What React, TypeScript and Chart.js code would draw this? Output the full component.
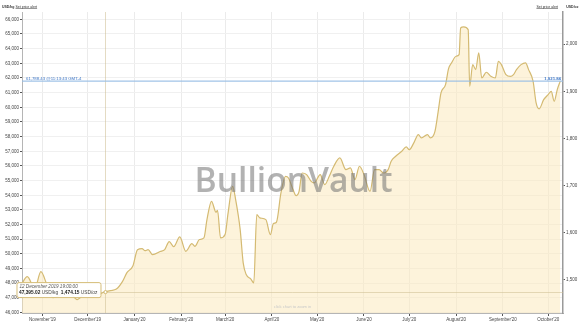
import { useEffect, useRef } from "react";
import { Chart, registerables } from "chart.js";

Chart.register(...registerables);

// ---------- data ----------
const dates = [
  "2019-10-18", "2019-10-22", "2019-10-27", "2019-10-31", "2019-11-04", "2019-11-08", "2019-11-12",
  "2019-11-16", "2019-11-20", "2019-11-24", "2019-11-28", "2019-12-02", "2019-12-05", "2019-12-12",
  "2019-12-16", "2019-12-20", "2019-12-24", "2019-12-27", "2019-12-31", "2020-01-03", "2020-01-06",
  "2020-01-08", "2020-01-10", "2020-01-13", "2020-01-18", "2020-01-21", "2020-01-24", "2020-01-27",
  "2020-01-31", "2020-02-04", "2020-02-08", "2020-02-10", "2020-02-13", "2020-02-16", "2020-02-18",
  "2020-02-21", "2020-02-24", "2020-02-25", "2020-02-27", "2020-03-01", "2020-03-03", "2020-03-06",
  "2020-03-08", "2020-03-11", "2020-03-13", "2020-03-15", "2020-03-18", "2020-03-20", "2020-03-22",
  "2020-03-24", "2020-03-28", "2020-03-31", "2020-04-02", "2020-04-04", "2020-04-07", "2020-04-10",
  "2020-04-12", "2020-04-15", "2020-04-17", "2020-04-19", "2020-04-21", "2020-04-24", "2020-04-27",
  "2020-04-29", "2020-05-03", "2020-05-06", "2020-05-09", "2020-05-12", "2020-05-16", "2020-05-20",
  "2020-05-23", "2020-05-26", "2020-05-29", "2020-06-01", "2020-06-05", "2020-06-08", "2020-06-11",
  "2020-06-14", "2020-06-17", "2020-06-19", "2020-06-22", "2020-06-26", "2020-06-29", "2020-07-01",
  "2020-07-04", "2020-07-07", "2020-07-09", "2020-07-13", "2020-07-15", "2020-07-18", "2020-07-20",
  "2020-07-22", "2020-07-25", "2020-07-27", "2020-07-29", "2020-08-01", "2020-08-03", "2020-08-04",
  "2020-08-06", "2020-08-09", "2020-08-10", "2020-08-12", "2020-08-14", "2020-08-16", "2020-08-18",
  "2020-08-21", "2020-08-24", "2020-08-27", "2020-08-29", "2020-08-31", "2020-09-03", "2020-09-06",
  "2020-09-08", "2020-09-10", "2020-09-13", "2020-09-16", "2020-09-18", "2020-09-21", "2020-09-23",
  "2020-09-25", "2020-09-28", "2020-10-01", "2020-10-03", "2020-10-05", "2020-10-07", "2020-10-09",
];

const usdPerKg = [
  47900, 48450, 47630, 48790, 47900, 47020, 47150,
  47430, 47290, 46880, 47220, 47560, 47150, 47395.02,
  47500, 47600, 48110, 48720, 49200, 50290, 50360,
  50220, 50290, 49950, 50160, 50290, 50840, 50500,
  51160, 50180, 50700, 50520, 50980, 51090, 52340,
  53590, 52840, 52970, 51090, 51320, 52800, 54610,
  53700, 51660, 49390, 48590, 48300, 48020, 52680,
  52460, 52340, 51320, 52070, 52160, 54160, 55290,
  55180, 54390, 53980, 54270, 55520, 55410, 54950,
  54840, 55410, 54730, 55290, 55980, 56550, 55750,
  55870, 55070, 55980, 55410, 54270, 55750, 55750,
  55520, 55750, 56320, 56660, 57000, 57300, 57110,
  57570, 58140, 57910, 58140, 57910, 58360, 59620,
  60980, 61550, 62640, 63030, 63480, 63590, 65410,
  65480, 65300, 61430, 62910, 62570, 63710, 62000,
  62390, 62110, 62000, 63140, 62910, 62230, 62110,
  62230, 62570, 62910, 63030, 62570, 61770, 60300,
  59890, 60520, 60870, 61090, 60410, 61210, 61788.43,
];

const monthTickDates = [
  "2019-11-01", "2019-12-01", "2020-01-01", "2020-02-01", "2020-03-01", "2020-04-01",
  "2020-05-01", "2020-06-01", "2020-07-01", "2020-08-01", "2020-09-01", "2020-10-01",
];
const monthTickLabels = [
  "November'19", "December'19", "January'20", "February'20", "March'20", "April'20",
  "May'20", "June'20", "July'20", "August'20", "September'20", "October'20",
];

const kgTicks = [
  46000, 46500, 47000, 47500, 48000, 48500, 49000, 49500, 50000, 50500, 51000,
  51500, 52000, 52500, 53000, 53500, 54000, 54500, 55000, 55500, 56000, 56500,
  57000, 57500, 58000, 58500, 59000, 59500, 60000, 60500, 61000, 61500, 62000,
  62500, 63000, 63500, 64000, 64500, 65000, 65500, 66000,
];
const ozTicks = [1500, 1600, 1700, 1800, 1900, 2000];

const OZ_PER_KG = 32.1507;
const Y_MIN = 45970;
const Y_MAX = 66500;
const X_START = "2019-10-18";
const X_END = "2020-10-10";

const currentPriceKg = 61788.43;
const currentPriceLabel = "61,788.43 @11:13:43 GMT-4";
const currentPriceOzLabel = "1,921.84";

const tooltipDate = "2019-12-12";
const tooltipHour = 19;
const tooltipTitle = "12 December 2019 19:00:00";
const tooltipKg = 47395.02;
const tooltipKgLabel = "47,395.02";
const tooltipOzLabel = "1,474.15";

const watermarkText = "BullionVault";

// ---------- helpers ----------
const BASE = Date.UTC(2019, 10, 1);
function toDay(s: string): number {
  const [y, m, d] = s.split("-").map(Number);
  return (Date.UTC(y, m - 1, d) - BASE) / 86400000;
}
const fmt = new Intl.NumberFormat("en-US");
const FONT = "'Liberation Sans', Arial, sans-serif";

const overlayPlugin = {
  id: "overlay",
  afterDatasetsDraw(chart: any) {
    const { ctx, chartArea } = chart;
    const xs = chart.scales.x;
    const ys = chart.scales.y;
    ctx.save();

    // crosshairs for tooltip point
    const tx = xs.getPixelForValue(toDay(tooltipDate) + tooltipHour / 24);
    const ty = ys.getPixelForValue(tooltipKg);
    ctx.strokeStyle = "rgba(205,190,145,0.55)";
    ctx.lineWidth = 1;
    ctx.beginPath();
    ctx.moveTo(chartArea.left, Math.round(ty) + 0.5);
    ctx.lineTo(chartArea.right, Math.round(ty) + 0.5);
    ctx.moveTo(Math.round(tx) + 0.5, chartArea.top);
    ctx.lineTo(Math.round(tx) + 0.5, chartArea.bottom);
    ctx.stroke();

    // current price line
    const py = ys.getPixelForValue(currentPriceKg);
    ctx.strokeStyle = "rgba(150,188,228,0.9)";
    ctx.lineWidth = 1.3;
    ctx.beginPath();
    ctx.moveTo(chartArea.left, py);
    ctx.lineTo(chartArea.right, py);
    ctx.stroke();
    ctx.fillStyle = "#3f78c8";
    ctx.font = `4.3px ${FONT}`;
    ctx.textBaseline = "alphabetic";
    ctx.textAlign = "left";
    ctx.fillText(currentPriceLabel, chartArea.left + 4, py - 1.2);
    ctx.font = `bold 4.3px ${FONT}`;
    ctx.textAlign = "right";
    ctx.fillText(currentPriceOzLabel, chartArea.right - 2, py - 1.2);

    // watermark (fitted to its width in the reference)
    const cx = (chartArea.left + chartArea.right) / 2;
    ctx.font = `600 40px 'Open Sans', ${FONT}`;
    const mw = ctx.measureText(watermarkText).width;
    const size = (40 * 198) / mw;
    ctx.font = `600 ${size.toFixed(2)}px 'Open Sans', ${FONT}`;
    ctx.textAlign = "center";
    ctx.fillStyle = "rgba(115,115,115,0.55)";
    ctx.fillText(watermarkText, cx + 1, chartArea.top + chartArea.height * 0.598);

    // "click chart to zoom in"
    ctx.font = `4px ${FONT}`;
    ctx.fillStyle = "#c8c8c8";
    ctx.fillText("click chart to zoom in", cx, chartArea.bottom - 5);

    // tooltip point marker
    ctx.fillStyle = "#ffffff";
    ctx.strokeStyle = "#d2b86e";
    ctx.lineWidth = 1;
    ctx.beginPath();
    ctx.arc(tx, ty, 1.6, 0, Math.PI * 2);
    ctx.fill();
    ctx.stroke();

    // tooltip box
    const bx = tx - 89;
    const by = ty - 10;
    const bw = 84;
    const bh = 15;
    ctx.fillStyle = "rgba(255,255,255,0.93)";
    ctx.strokeStyle = "#d6bd78";
    ctx.lineWidth = 1;
    ctx.beginPath();
    ctx.roundRect(bx + 0.5, by + 0.5, bw, bh, 2);
    ctx.fill();
    ctx.stroke();
    ctx.textAlign = "left";
    ctx.fillStyle = "#555";
    ctx.font = `italic 4.6px ${FONT}`;
    ctx.fillText(tooltipTitle, bx + 3, by + 6.3);
    let x = bx + 2.5;
    const ly = by + 12.2;
    const parts: [string, boolean][] = [
      [tooltipKgLabel, true],
      [" USD/kg  ", false],
      [tooltipOzLabel, true],
      [" USD/oz", false],
    ];
    for (const [t, b] of parts) {
      ctx.font = `${b ? "bold " : ""}4.8px ${FONT}`;
      ctx.fillStyle = b ? "#222" : "#444";
      ctx.fillText(t, x, ly);
      x += ctx.measureText(t).width;
    }
    ctx.restore();
  },
  afterDraw(chart: any) {
    const { ctx, width } = chart;
    ctx.save();
    ctx.textBaseline = "middle";
    ctx.fillStyle = "#333";
    // top left
    ctx.textAlign = "left";
    ctx.font = `bold 3.5px ${FONT}`;
    ctx.fillText("USD/kg", 2, 6.7);
    ctx.font = `3.5px ${FONT}`;
    ctx.fillText("Set price alert", 15.5, 6.7);
    let w = ctx.measureText("Set price alert").width;
    ctx.fillRect(15.5, 8.5, w, 0.5);
    // top right
    ctx.textAlign = "right";
    ctx.font = `bold 3.5px ${FONT}`;
    ctx.fillText("USD/oz", width - 6.5, 6.7);
    ctx.font = `3.5px ${FONT}`;
    ctx.fillText("Set price alert", width - 27, 6.7);
    w = ctx.measureText("Set price alert").width;
    ctx.fillRect(width - 27 - w, 8.5, w, 0.5);
    ctx.restore();
  },
};

export default function App() {
  const ref = useRef<HTMLCanvasElement | null>(null);

  useEffect(() => {
    if (!ref.current) return;
    Chart.defaults.font.family = FONT;
    const points = dates.map((d, i) => ({ x: toDay(d), y: usdPerKg[i] }));
    const monthDays = monthTickDates.map(toDay);

    const chart = new Chart(ref.current, {
      type: "line",
      data: {
        datasets: [
          {
            data: points,
            borderColor: "#d4ba72",
            borderWidth: 1.2,
            backgroundColor: "rgba(251,234,190,0.55)",
            fill: "start",
            pointRadius: 0,
            cubicInterpolationMode: "monotone",
            yAxisID: "y",
          },
        ],
      },
      options: {
        animation: false,
        responsive: false,
        maintainAspectRatio: false,
        layout: { padding: { top: 12, left: 0, right: 0, bottom: 0 } },
        plugins: { legend: { display: false }, tooltip: { enabled: false } },
        scales: {
          x: {
            type: "linear",
            min: toDay(X_START) + 0.5,
            max: toDay(X_END) + 0.8,
            afterBuildTicks: (s: any) => {
              s.ticks = monthDays.map((v) => ({ value: v }));
            },
            afterFit: (s: any) => {
              s.height = 15;
            },
            ticks: {
              autoSkip: false,
              maxRotation: 0,
              padding: 1,
              color: "#444",
              font: { size: 4.5 },
              callback: (_v: any, i: number) => monthTickLabels[i],
            },
            grid: { color: "#ebebeb", tickColor: "#555", tickLength: 3 },
            border: { color: "#b5b5b5" },
          },
          y: {
            position: "left",
            min: Y_MIN,
            max: Y_MAX,
            afterBuildTicks: (s: any) => {
              s.ticks = kgTicks.map((v) => ({ value: v }));
            },
            afterFit: (s: any) => {
              s.width = 22;
            },
            ticks: {
              padding: 1,
              color: "#444",
              font: { size: 4.5 },
              callback: (v: any) => fmt.format(v),
            },
            grid: { color: "#f0f0f0", tickColor: "#555", tickLength: 2 },
            border: { color: "#b5b5b5" },
          },
          y2: {
            position: "right",
            min: Y_MIN / OZ_PER_KG,
            max: Y_MAX / OZ_PER_KG,
            afterBuildTicks: (s: any) => {
              s.ticks = ozTicks.map((v) => ({ value: v }));
            },
            afterFit: (s: any) => {
              s.width = 22;
            },
            ticks: {
              padding: 1,
              color: "#444",
              font: { size: 4.5 },
              callback: (v: any) => fmt.format(v),
            },
            grid: { drawOnChartArea: false, tickColor: "#555", tickLength: 2 },
            border: { color: "#9a9a9a", width: 1.5 },
          },
        },
      },
      plugins: [overlayPlugin],
    } as any);

    return () => chart.destroy();
  }, []);

  return (
    <div style={{ position: "fixed", left: 0, top: 0, width: 585, height: 328, background: "#fff" }}>
      <canvas ref={ref} width={585} height={328} style={{ width: 585, height: 328, display: "block" }} />
    </div>
  );
}
